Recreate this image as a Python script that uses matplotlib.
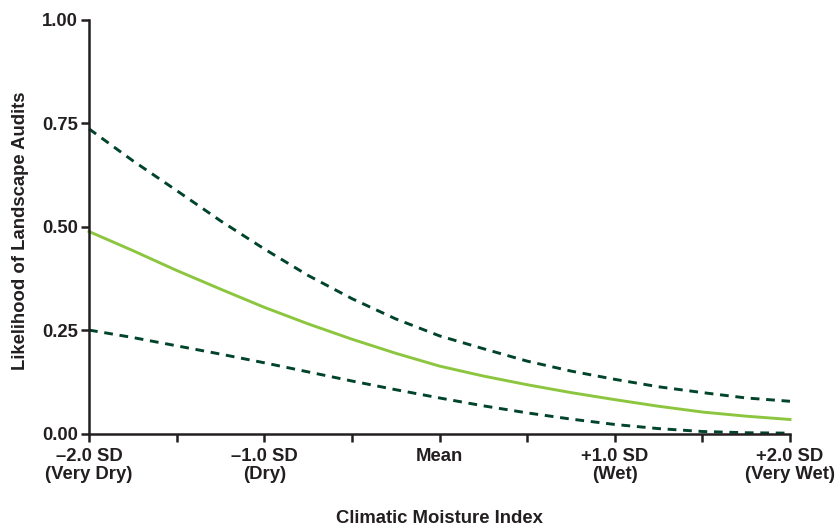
import numpy as np
import matplotlib
matplotlib.use('Agg')
import matplotlib.pyplot as plt

plt.rcParams['font.family'] = ['Liberation Sans', 'DejaVu Sans']

# ============================================================
# Data
# ============================================================
cmi = [-2.0, -1.75, -1.5, -1.25, -1.0, -0.75, -0.5, -0.25, 0.0,
       0.25, 0.5, 0.75, 1.0, 1.25, 1.5, 1.75, 2.0]
likelihood = [0.489, 0.443, 0.395, 0.350, 0.306, 0.266, 0.229, 0.195, 0.164,
              0.140, 0.119, 0.100, 0.083, 0.067, 0.053, 0.043, 0.035]
upper_ci = [0.737, 0.660, 0.588, 0.515, 0.447, 0.383, 0.327, 0.278, 0.237,
            0.206, 0.176, 0.152, 0.132, 0.114, 0.100, 0.087, 0.079]
lower_ci = [0.251, 0.233, 0.213, 0.193, 0.172, 0.150, 0.128, 0.107, 0.087,
            0.068, 0.051, 0.036, 0.023, 0.013, 0.006, 0.003, 0.002]

major_ticks = [-2.0, -1.0, 0.0, 1.0, 2.0]
major_labels = ['\u20132.0 SD\n(Very Dry)', '\u20131.0 SD\n(Dry)', 'Mean',
                '+1.0 SD\n(Wet)', '+2.0 SD\n(Very Wet)']
minor_ticks = [-1.5, -0.5, 0.5, 1.5]
y_ticks = [0.0, 0.25, 0.5, 0.75, 1.0]

green = '#8cc63f'
dark = '#00442a'
axis_col = '#231f20'
fs = 13.3

fig = plt.figure(figsize=(8.35, 5.27), dpi=100)
ax = fig.add_axes([0.1066, 0.1765, 0.8395, 0.7856])

ax.plot(cmi, upper_ci, color=dark, lw=2.1, linestyle=(0, (3.0, 2.3)), clip_on=False)
ax.plot(cmi, lower_ci, color=dark, lw=2.1, linestyle=(0, (3.0, 2.3)), clip_on=False)
ax.plot(cmi, likelihood, color=green, lw=2.1, clip_on=False)

ax.set_xlim(-2, 2)
ax.set_ylim(0, 1)
for side in ['top', 'right']:
    ax.spines[side].set_visible(False)
for side in ['left', 'bottom']:
    ax.spines[side].set_linewidth(1.8)
    ax.spines[side].set_color(axis_col)

ax.set_xticks(major_ticks)
ax.set_xticklabels(major_labels, fontsize=fs, fontweight='bold', color=axis_col,
                   linespacing=1.05, va='top')
ax.set_xticks(minor_ticks, minor=True)
ax.set_yticks(y_ticks)
ax.set_yticklabels([f'{v:.2f}' for v in y_ticks], fontsize=fs, fontweight='bold',
                   color=axis_col)
ax.tick_params(axis='both', which='both', direction='out', length=6, width=1.8,
               color=axis_col)
ax.tick_params(axis='x', pad=4)
ax.tick_params(axis='y', pad=2)

ax.set_xlabel('Climatic Moisture Index', fontsize=fs, fontweight='bold',
              color=axis_col, va='center')
ax.xaxis.set_label_coords(0.5, -0.203)
ax.set_ylabel('Likelihood of Landscape Audits', fontsize=fs, fontweight='bold',
              color=axis_col, va='center')
ax.yaxis.set_label_coords(-0.098, 0.49)

fig.savefig('out.png', dpi=100)
